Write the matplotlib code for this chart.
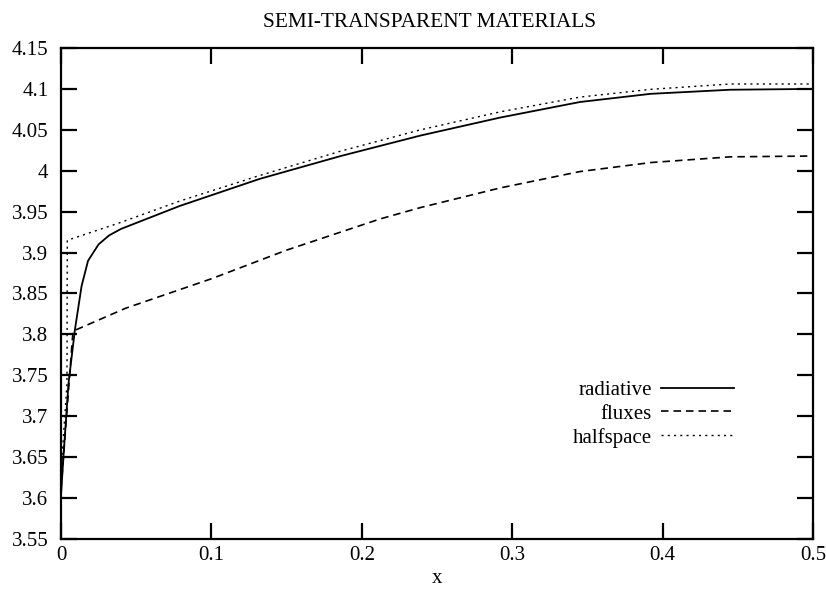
import matplotlib
matplotlib.use("Agg")
from matplotlib import pyplot as plt

plt.rcParams['font.family'] = ['Liberation Serif', 'DejaVu Serif']

# values
x_radiative = [0.0, 0.002, 0.005, 0.0093, 0.0137, 0.018, 0.025, 0.032, 0.04,
               0.079, 0.132, 0.186, 0.239, 0.292, 0.345, 0.392, 0.445, 0.5]
y_radiative = [3.603, 3.66, 3.74, 3.806, 3.859, 3.890, 3.910, 3.921, 3.929,
               3.957, 3.990, 4.018, 4.043, 4.065, 4.084, 4.094, 4.099, 4.100]

x_fluxes = [0.0, 0.008, 0.043, 0.1, 0.15, 0.212, 0.239, 0.292, 0.345,
            0.392, 0.445, 0.5]
y_fluxes = [3.61, 3.804, 3.832, 3.868, 3.903, 3.941, 3.955, 3.979, 3.999,
            4.010, 4.017, 4.018]

x_halfspace = [0.0, 0.004, 0.0042, 0.04, 0.079, 0.13, 0.186, 0.239, 0.292,
               0.345, 0.392, 0.445, 0.5]
y_halfspace = [3.63, 3.74, 3.915, 3.937, 3.963, 3.993, 4.024, 4.050, 4.072,
               4.090, 4.0995, 4.106, 4.106]

xticks = [0, 0.1, 0.2, 0.3, 0.4, 0.5]
xtick_labels = ['0', '0.1', '0.2', '0.3', '0.4', '0.5']
yticks = [3.55, 3.6, 3.65, 3.7, 3.75, 3.8, 3.85, 3.9, 3.95, 4.0, 4.05, 4.1, 4.15]
ytick_labels = ['3.55', '3.6', '3.65', '3.7', '3.75', '3.8', '3.85', '3.9',
                '3.95', '4', '4.05', '4.1', '4.15']

fig = plt.figure(figsize=(8.26, 5.89), dpi=100)
ax = fig.add_axes([0.0738, 0.0849, 0.9105, 0.8336])

ax.plot(x_radiative, y_radiative, color='black', lw=1.3, label='radiative')
ax.plot(x_fluxes, y_fluxes, color='black', lw=1.2, dashes=(4.5, 3),
        label='fluxes')
ax.plot(x_halfspace, y_halfspace, color='black', lw=1.0, dashes=(1.5, 3),
        label='halfspace')

ax.set_xlim(0, 0.5)
ax.set_ylim(3.55, 4.15)
ax.set_xticks(xticks)
ax.set_xticklabels(xtick_labels)
ax.set_yticks(yticks)
ax.set_yticklabels(ytick_labels)

ax.tick_params(axis='both', direction='in', length=11.5, width=1.6,
               top=True, right=True, labelsize=15)
ax.tick_params(axis='y', pad=9)
ax.tick_params(axis='x', pad=5)
for sp in ax.spines.values():
    sp.set_linewidth(1.6)

ax.set_title('SEMI-TRANSPARENT MATERIALS', fontsize=15.4, pad=15, x=0.49)
ax.set_xlabel('x', fontsize=15, labelpad=3)

ax.legend(loc='center right', bbox_to_anchor=(0.895, 0.2546), frameon=False,
          markerfirst=False, handlelength=3.5, fontsize=15,
          labelspacing=0.2, handletextpad=0.45, borderpad=0,
          borderaxespad=0)

fig.savefig('out.png', dpi=100)
